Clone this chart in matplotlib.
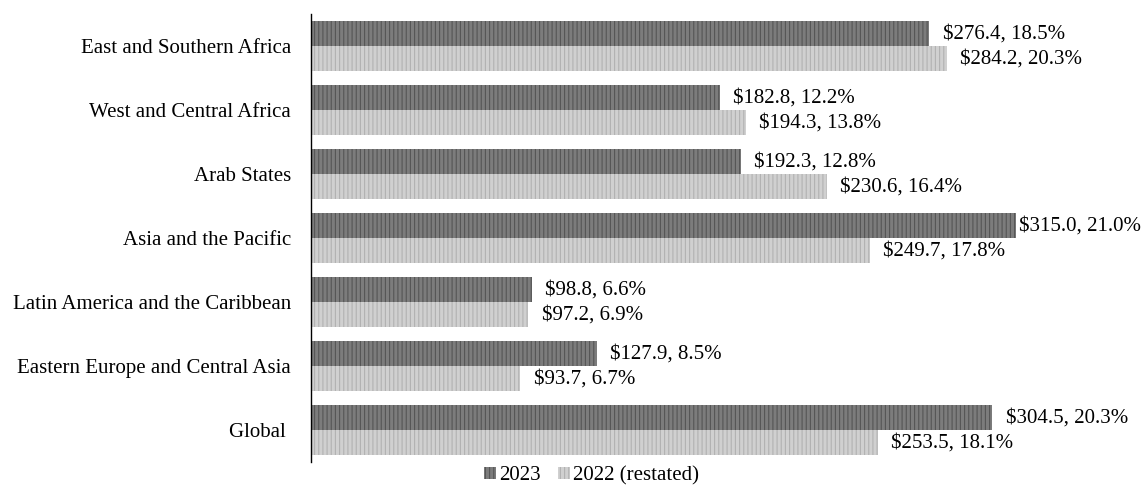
import matplotlib.pyplot as plt
import numpy as np

regions = ["East and Southern Africa", "West and Central Africa", "Arab States",
           "Asia and the Pacific", "Latin America and the Caribbean",
           "Eastern Europe and Central Asia", "Global "]
val_2023 = [276.4, 182.8, 192.3, 315.0, 98.8, 127.9, 304.5]
pct_2023 = [18.5, 12.2, 12.8, 21.0, 6.6, 8.5, 20.3]
val_2022 = [284.2, 194.3, 230.6, 249.7, 97.2, 93.7, 253.5]
pct_2022 = [20.3, 13.8, 16.4, 17.8, 6.9, 6.7, 18.1]

plt.rcParams['font.family'] = ['Liberation Serif', 'DejaVu Serif']
plt.rcParams['hatch.linewidth'] = 0.8

FS = 15
PAD = 6.0

fig = plt.figure(figsize=(11.42, 4.87), dpi=100)
ax = fig.add_axes([0.272, 0.051, 0.686, 0.920])

y = np.arange(len(regions))
h = 0.39
dark = ax.barh(y - h / 2, val_2023, height=h, color='#7c7c7c', edgecolor='#555555',
               hatch='||||', linewidth=0, label='2023')
light = ax.barh(y + h / 2, val_2022, height=h, color='#d0d0d0', edgecolor='#b2b2b2',
                hatch='||||', linewidth=0, label='2022 (restated)')

labels = []
for i in range(len(regions)):
    labels.append(ax.text(val_2023[i] + PAD, y[i] - h / 2,
                          f"${val_2023[i]:.1f}, {pct_2023[i]:.1f}%",
                          va='center', ha='left', fontsize=FS, clip_on=False))
    labels.append(ax.text(val_2022[i] + PAD, y[i] + h / 2,
                          f"${val_2022[i]:.1f}, {pct_2022[i]:.1f}%",
                          va='center', ha='left', fontsize=FS, clip_on=False))

ax.set_xlim(0, 350)
ax.set_ylim(len(regions) - 0.5, -0.5)
ax.set_yticks(y)
ax.set_yticklabels(regions, fontsize=FS)
ax.tick_params(axis='y', length=0, pad=14)
ax.set_xticks([])
for s in ['top', 'right', 'bottom']:
    ax.spines[s].set_visible(False)
ax.spines['left'].set_color('black')
ax.spines['left'].set_linewidth(1.0)

fig.legend(handles=[dark, light], loc='center', bbox_to_anchor=(0.518, 0.023), ncol=2,
           frameon=False, fontsize=FS, handlelength=0.55, handleheight=0.55,
           handletextpad=0.15, columnspacing=0.85, borderpad=0.1)

# keep labels inside the figure, like the original chart does
fig.canvas.draw()
r = fig.canvas.get_renderer()
fig_w = fig.bbox.width
inv = ax.transData.inverted()
for t in labels:
    bb = t.get_window_extent(r)
    if bb.x1 > fig_w - 1:
        shift = bb.x1 - (fig_w - 1)
        x0, yy = t.get_position()
        xd = inv.transform((ax.transData.transform((x0, yy))[0] - shift, 0))[0]
        t.set_x(xd)

fig.savefig('out.png', dpi=100)
